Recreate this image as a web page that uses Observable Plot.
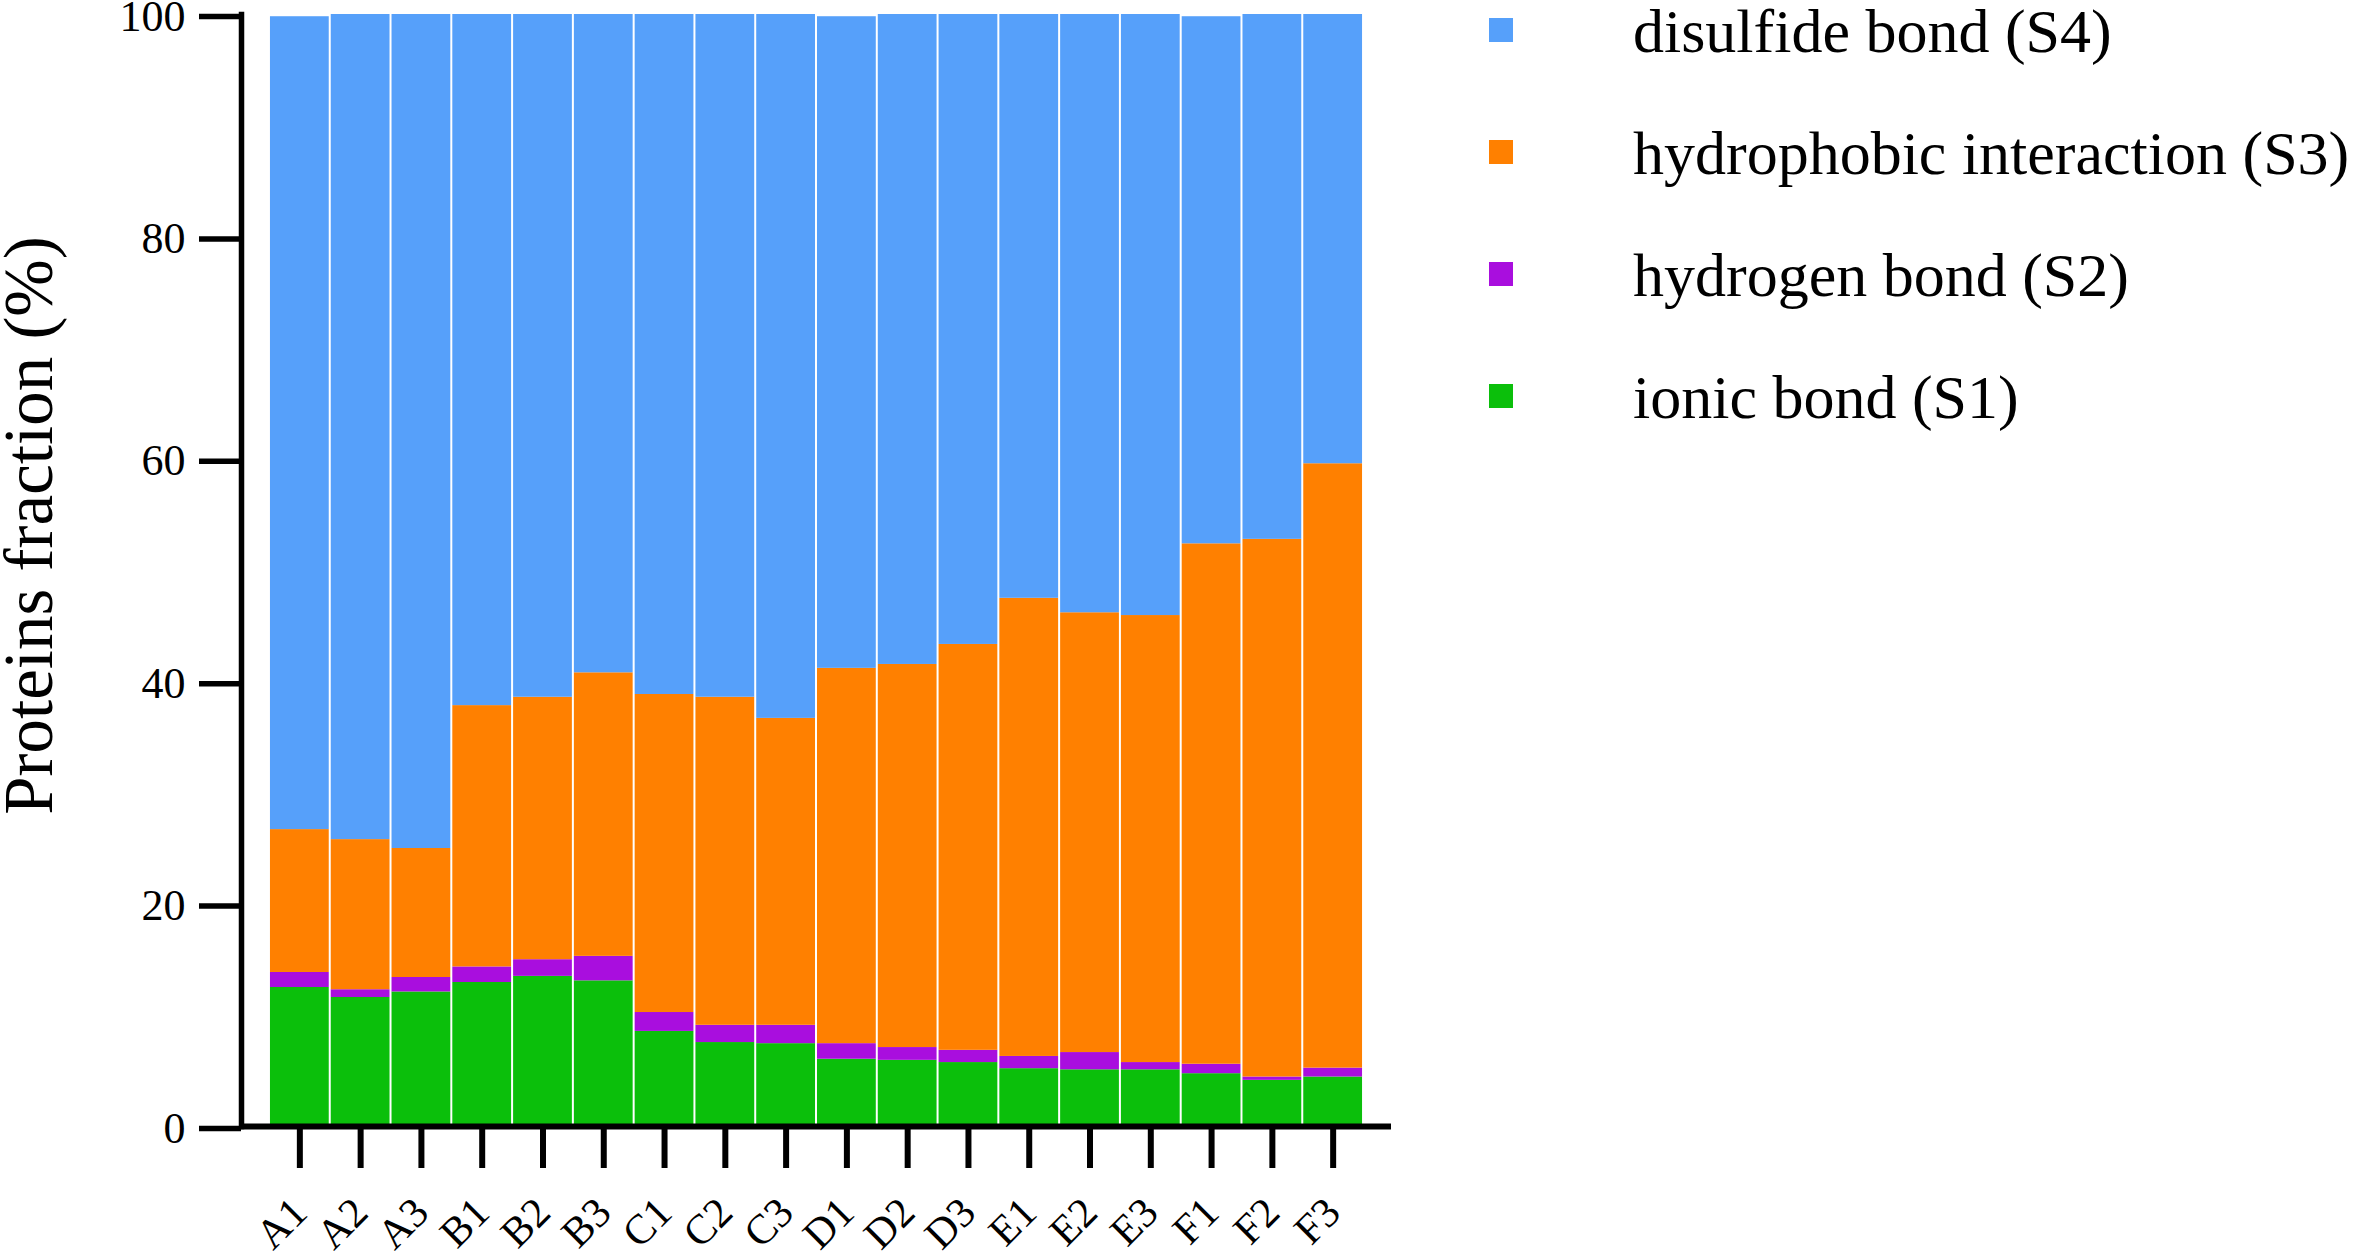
<!DOCTYPE html>
<html><head><meta charset="utf-8">
<script src="https://cdn.jsdelivr.net/npm/d3@7"></script>
<script src="https://cdn.jsdelivr.net/npm/@observablehq/plot@0.6"></script>
<style>
body{margin:0;background:#fff;}
#wrap{position:relative;width:2362px;height:1257px;font-family:"Liberation Serif","Times New Roman",serif;}
#legend{position:absolute;left:1489px;top:0;}
.item{position:absolute;left:0;white-space:nowrap;}
.sw{position:absolute;left:0;top:17.5px;width:24px;height:24px;}
.lab{position:absolute;left:144px;top:0;font-size:62px;line-height:1;color:#000;}
svg{display:block;}
</style></head><body><div id="wrap"></div>
<script>
const samples = ["A1","A2","A3","B1","B2","B3","C1","C2","C3","D1","D2","D3","E1","E2","E3","F1","F2","F3"];
const ionic = [12.5, 11.6, 12.1, 12.95, 13.5, 13.1, 8.55, 7.55, 7.45, 6.05, 5.95, 5.75, 5.2, 5.1, 5.1, 4.75, 4.15, 4.45];
const hydrogen = [1.35, 0.7, 1.3, 1.4, 1.5, 2.2, 1.7, 1.55, 1.65, 1.4, 1.15, 1.1, 1.1, 1.55, 0.65, 0.85, 0.3, 0.8];
const hydrophobic = [12.85, 13.5, 11.6, 23.5, 23.6, 25.5, 28.6, 29.5, 27.6, 33.75, 34.45, 36.5, 41.2, 39.55, 40.2, 46.8, 48.35, 54.35];
const disulfide = [73.1, 74.2, 75.0, 62.15, 61.4, 59.2, 61.15, 61.4, 63.3, 58.6, 58.45, 56.65, 52.5, 53.8, 54.05, 47.4, 47.2, 40.4];
const seriesNames = ["ionic bond (S1)","hydrogen bond (S2)","hydrophobic interaction (S3)","disulfide bond (S4)"];
const seriesColors = ["#0BBF0B","#A90EDE","#FF8000","#56A0FA"];
const yTicks = [0,20,40,60,80,100];
const yTitle = "Proteins fraction (%)";

const seriesValues = [ionic, hydrogen, hydrophobic, disulfide];
const rows = [];
samples.forEach((s, i) => {
  seriesNames.forEach((name, k) => rows.push({sample: s, series: name, value: seriesValues[k][i]}));
});

const chart = Plot.plot({
  width: 2362, height: 1257,
  marginLeft: 241, marginRight: 971, marginTop: 14, marginBottom: 131,
  style: {fontFamily: "'Liberation Serif', 'Times New Roman', serif", background: "white", color: "black"},
  x: {domain: samples, paddingInner: 0, paddingOuter: 0.46, round: false},
  y: {domain: [0, 100]},
  color: {domain: seriesNames, range: seriesColors},
  marks: [
    Plot.barY(rows, {x: "sample", y: "value", fill: "series", insetLeft: 1, insetRight: 1}),
    Plot.axisY({ticks: yTicks, tickSize: 42, tickPadding: 14, fontSize: 44, strokeWidth: 5.5, label: null, dy: 2, tickFormat: d => String(d)}),
    Plot.axisX({tickSize: 42, strokeWidth: 6, tickFormat: () => "", label: null}),
    Plot.text(samples, {x: d => d, text: d => d, frameAnchor: "bottom", dy: 79, dx: 0, rotate: -45, textAnchor: "end", lineAnchor: "middle", fontSize: 42}),
    Plot.text([yTitle], {text: d => d, frameAnchor: "left", dx: -212, dy: -45, rotate: -90, textAnchor: "middle", lineAnchor: "middle", fontSize: 69}),
    Plot.ruleY([0], {strokeWidth: 6}),
    Plot.frame({anchor: "left", strokeWidth: 5.5})
  ]
});
const wrap = document.getElementById("wrap");
wrap.appendChild(chart);

const legend = document.createElement("div");
legend.id = "legend";
const order = [3, 2, 1, 0];
order.forEach((k, r) => {
  const item = document.createElement("div");
  item.className = "item";
  item.style.top = (r * 122) + "px";
  const sw = document.createElement("div");
  sw.className = "sw";
  sw.style.background = seriesColors[k];
  const lab = document.createElement("div");
  lab.className = "lab";
  lab.textContent = seriesNames[k];
  item.appendChild(sw); item.appendChild(lab);
  legend.appendChild(item);
});
wrap.appendChild(legend);
</script></body></html>
